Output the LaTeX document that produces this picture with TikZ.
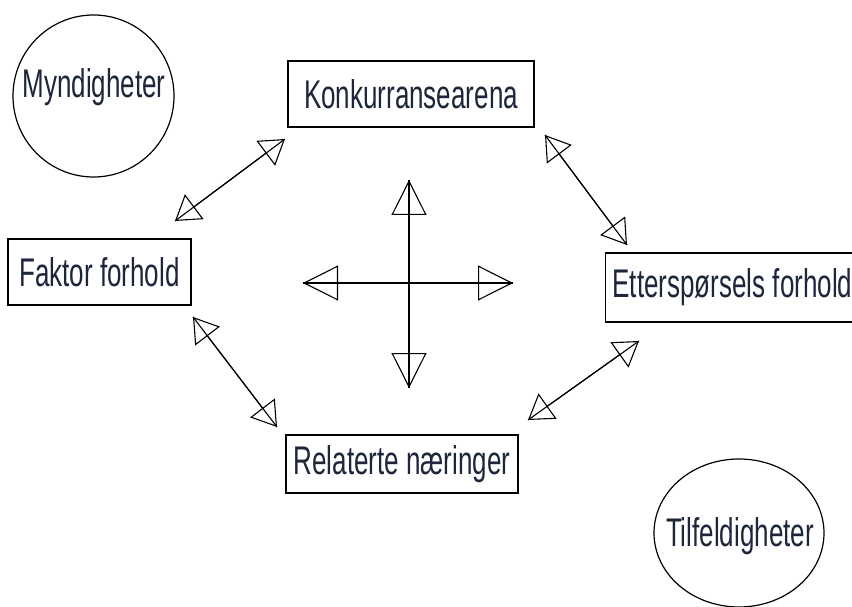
\documentclass[tikz,border=0pt]{standalone}
\usepackage{fontspec}
\usetikzlibrary{arrows.meta,shapes.geometric}
\newfontfamily\agency[FakeStretch=0.65]{Liberation Sans}
\definecolor{txt}{RGB}{30,38,60}
\tikzset{
  lbl/.style={inner sep=0pt, font=\agency\fontsize{40}{40}\selectfont, text=txt},
  box/.style={lbl, draw=black, line width=1.2pt, rectangle},
  blob/.style={draw=black, line width=1.2pt, ellipse, inner sep=0pt},
  conn/.style={line width=1.1pt},
  dhead/.style={line width=1.1pt, {Triangle[open, length=24pt, width=31pt]}-{Triangle[open, length=24pt, width=31pt]}},
  chead/.style={line width=1.1pt, -{Triangle[open, length=35pt, width=35pt]}},
}
\begin{document}
\begin{tikzpicture}[x=1pt, y=-1pt]
\useasboundingbox (0,0) rectangle (852,607);
\clip (0,0) rectangle (852,607);
\fill[white] (0,0) rectangle (852,607);

\node[box, minimum width=246pt, minimum height=66pt] (konk) at (411,94) {Konkurransearena};
\node[box, minimum width=183pt, minimum height=66pt] (fakt) at (99.5,272) {Faktor forhold};
\node[box, minimum width=270pt, minimum height=69pt, anchor=west] (ett) at (605,287.5) {\makebox[256pt][l]{Etterspørsels forhold}};
\node[box, minimum width=232pt, minimum height=58pt] (rel) at (402,464) {Relaterte næringer};

\node[blob, minimum width=161pt, minimum height=162pt] (mynd) at (93.5,96) {};
\node[lbl] (myndt) at (94,87) {Myndigheter};
\node[blob, minimum width=170pt, minimum height=148pt] (tilf) at (739,533) {};
\node[lbl] (tilft) at (740,536) {Tilfeldigheter};

% diagonal double arrows
\coordinate (a1s) at (175,221); \coordinate (a1e) at (285,139);
\coordinate (a2s) at (545,135); \coordinate (a2e) at (627,245);
\coordinate (a3s) at (639,341); \coordinate (a3e) at (528,420);
\coordinate (a4s) at (193,317); \coordinate (a4e) at (277,427);
\foreach \s/\e in {a1s/a1e, a2s/a2e, a3s/a3e, a4s/a4e}{
  \draw[conn] (\s) -- (\e);
  \draw[dhead] (\s) -- (\e);
}

% central cross
\coordinate (cc) at (409,283);
\coordinate (cu) at (409,180);
\coordinate (cd) at (409,388);
\coordinate (cl) at (303,283);
\coordinate (cr) at (513,283);
\foreach \t in {cu,cd,cl,cr}{
  \draw[conn] (cc) -- (\t);
  \draw[chead] (cc) -- (\t);
}
\end{tikzpicture}
\end{document}
